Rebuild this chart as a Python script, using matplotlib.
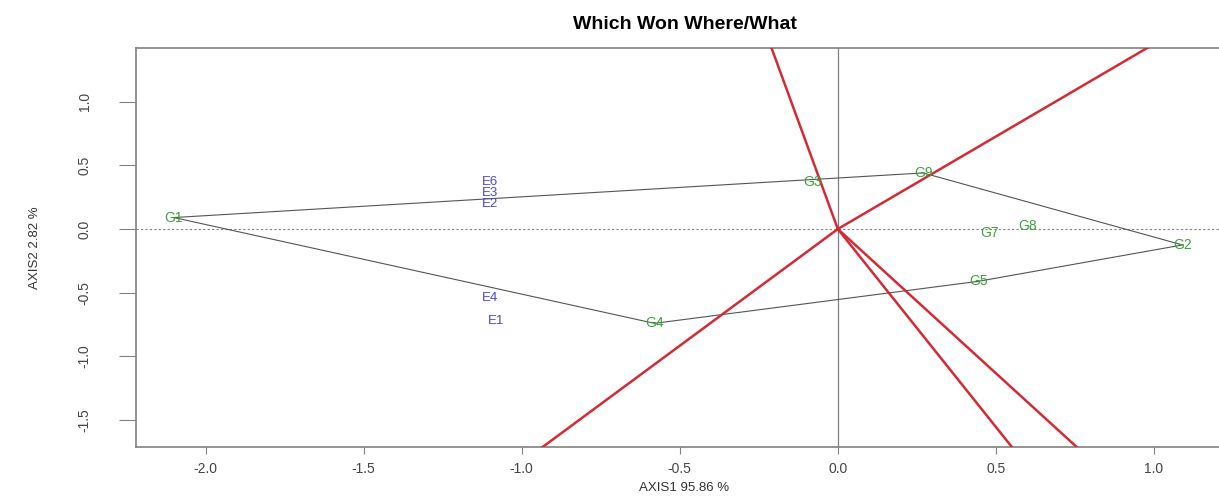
import numpy as np
import matplotlib
matplotlib.use("Agg")
import matplotlib.pyplot as plt

plt.rcParams['font.family'] = ['Liberation Sans', 'DejaVu Sans']
plt.rcParams['axes.unicode_minus'] = False

# genotype scores (label positions)
gen_names = ['G1', 'G2', 'G3', 'G4', 'G5', 'G7', 'G8', 'G9']
gen_x = [-2.10, 1.09, -0.08, -0.58, 0.445, 0.48, 0.60, 0.27]
gen_y = [0.09, -0.125, 0.365, -0.74, -0.41, -0.03, 0.02, 0.44]

# environment scores
env_names = ['E1', 'E2', 'E3', 'E4', 'E6']
env_x = [-1.08, -1.10, -1.10, -1.10, -1.10]
env_y = [-0.72, 0.20, 0.285, -0.54, 0.37]

# convex hull order (vertices)
hull = ['G1', 'G9', 'G2', 'G5', 'G4']

xlab = 'AXIS1 95.86 %'
ylab = 'AXIS2 2.82 %'
title = 'Which Won Where/What'

fig = plt.figure(figsize=(12.19, 4.97), dpi=100)
ax = fig.add_axes([136/1219, 50/497, 1097/1219, 399/497])

gx = dict(zip(gen_names, gen_x))
gy = dict(zip(gen_names, gen_y))
hx = [gx[g] for g in hull] + [gx[hull[0]]]
hy = [gy[g] for g in hull] + [gy[hull[0]]]

ax.axhline(0, color='grey', lw=0.8, ls=(0, (2, 2)))
ax.axvline(0, color='grey', lw=0.9)
ax.plot(hx, hy, color='#555555', lw=0.8, zorder=2)

# rays from the origin perpendicular to each side of the polygon
for i in range(len(hull)):
    p = np.array([hx[i], hy[i]])
    q = np.array([hx[i+1], hy[i+1]])
    d = q - p
    t = -np.dot(p, d) / np.dot(d, d)
    foot = p + t * d
    foot = foot / np.linalg.norm(foot)
    ax.plot([0, foot[0]*10], [0, foot[1]*10], color='#d42a35', lw=1.8, zorder=3)

for n, x, y in zip(gen_names, gen_x, gen_y):
    ax.text(x, y, n, color='#3aa33a', fontsize=10, ha='center', va='center', zorder=4)
for n, x, y in zip(env_names, env_x, env_y):
    ax.text(x, y, n, color='#4a4acc', fontsize=9.5, ha='center', va='center', zorder=4)

ax.set_xlim(-2.22, 1.25)
ax.set_ylim(-1.71, 1.42)
ax.set_xticks([-2.0, -1.5, -1.0, -0.5, 0.0, 0.5, 1.0])
ax.set_yticks([-1.5, -1.0, -0.5, 0.0, 0.5, 1.0])
ax.tick_params(axis='x', length=5, color='grey', labelsize=10, labelcolor='#444444', pad=6)
ax.tick_params(axis='y', length=12, color='grey', labelsize=10, labelcolor='#444444',
               labelrotation=90, pad=20)
for lbl in ax.get_yticklabels():
    lbl.set_va('center')
for s in ax.spines.values():
    s.set_color('grey')
    s.set_linewidth(1.2)

ax.set_xlabel(xlab, fontsize=9.5, color='#333333', labelpad=4)
ax.set_ylabel(ylab, fontsize=9.5, color='#333333', labelpad=26)
ax.set_title(title, fontsize=14, fontweight='bold', pad=14)

fig.savefig('out.png', dpi=100)
